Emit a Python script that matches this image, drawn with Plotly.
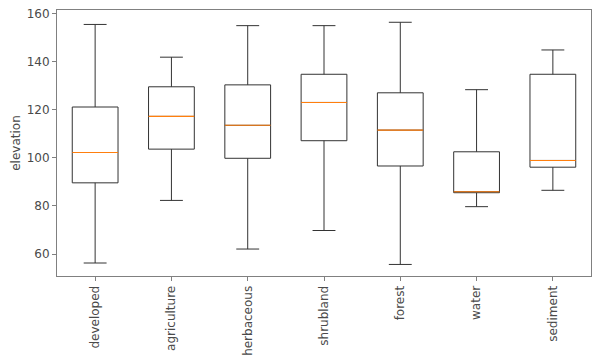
import plotly.graph_objects as go

categories = ["developed", "agriculture", "herbaceous", "shrubland", "forest", "water", "sediment"]
lower = [56.3, 82.3, 62.1, 69.8, 55.7, 79.7, 86.5]
q1 = [89.6, 103.6, 99.8, 107.1, 96.6, 85.5, 96.1]
median = [102.2, 117.2, 113.5, 123.0, 111.5, 85.9, 98.9]
q3 = [121.1, 129.5, 130.3, 134.7, 127.0, 102.5, 134.7]
upper = [155.4, 141.8, 154.9, 154.9, 156.3, 128.3, 144.8]
yticks = [60, 80, 100, 120, 140, 160]

positions = list(range(1, len(categories) + 1))

fig = go.Figure()
fig.add_trace(go.Box(
    x=positions, q1=q1, median=median, q3=q3, lowerfence=lower, upperfence=upper,
    width=0.6, whiskerwidth=0.5, fillcolor="rgba(0,0,0,0)",
    line=dict(color="#333333", width=1.0), showlegend=False, hoverinfo="skip",
))
# median lines in orange
fig.add_trace(go.Box(
    x=positions, q1=median, median=median, q3=median, lowerfence=median, upperfence=median,
    width=0.6, whiskerwidth=0, fillcolor="rgba(0,0,0,0)",
    line=dict(color="#ff7f0e", width=1.1), showlegend=False, hoverinfo="skip",
))

fig.update_layout(
    width=600, height=363,
    margin=dict(l=57, r=9, t=10, b=87),
    paper_bgcolor="white", plot_bgcolor="white",
    font=dict(family="DejaVu Sans", size=12, color="#4a4a4a"),
    boxmode="overlay",
)
fig.update_xaxes(
    range=[0.5, 7.5], tickvals=positions, ticktext=categories, tickangle=-90,
    showgrid=False, zeroline=False, showline=True, linecolor="#808080", linewidth=1,
    mirror=True, ticks="outside", ticklen=4, tickcolor="#808080", automargin=False,
)
fig.update_yaxes(
    range=[50.9, 161.4], tickvals=yticks,
    title=dict(text="elevation", standoff=3, font=dict(size=12)),
    showgrid=False, zeroline=False, showline=True, linecolor="#808080", linewidth=1,
    mirror=True, ticks="outside", ticklen=4, tickcolor="#808080", automargin=False,
)
fig.write_html("out.html", config={"displayModeBar": False},
               post_script="document.body.style.margin='0px';")
